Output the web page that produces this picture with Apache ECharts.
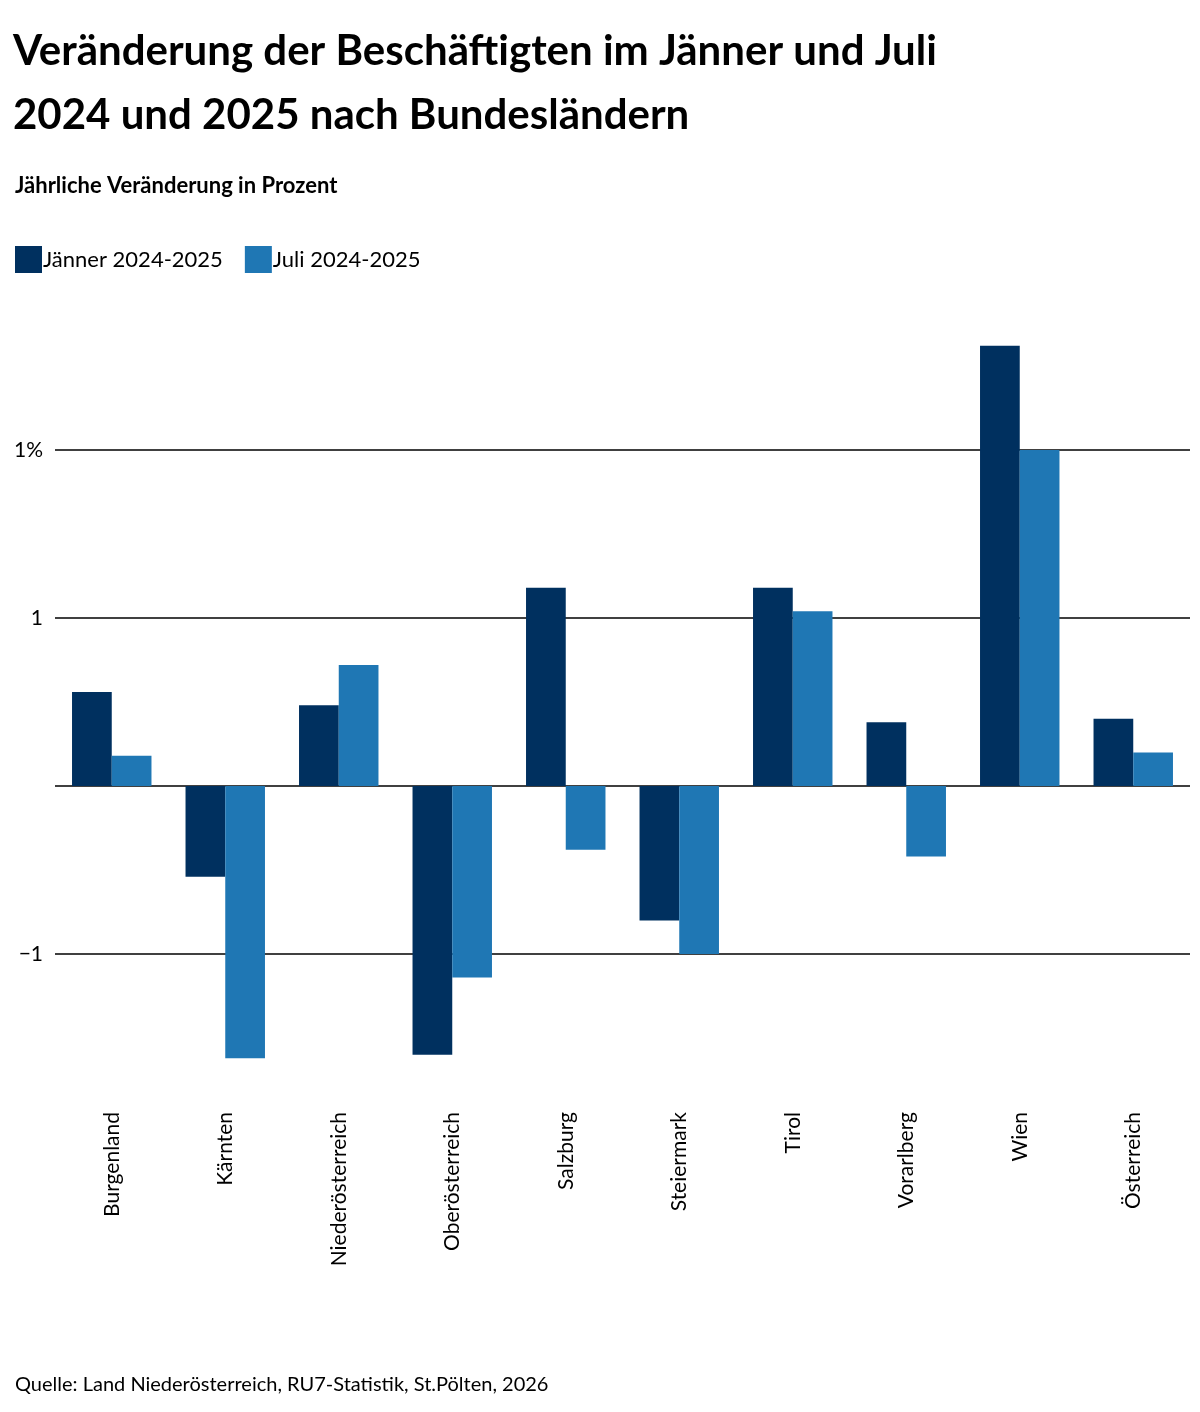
<!DOCTYPE html>
<html><head><meta charset="utf-8">
<script src="https://cdn.jsdelivr.net/npm/echarts@6/dist/echarts.min.js"></script>
<style>html,body{margin:0;background:#fff}#c{width:1200px;height:1412px}</style>
</head><body><div id="c"></div>
<script>
const categories = ['Burgenland','Kärnten','Niederösterreich','Oberösterreich','Salzburg','Steiermark','Tirol','Vorarlberg','Wien','Österreich'];
const jaenner = [0.28,-0.27,0.24,-0.80,0.59,-0.40,0.59,0.19,1.31,0.20];
const juli = [0.09,-0.81,0.36,-0.57,-0.19,-0.50,0.52,-0.21,1.00,0.10];
const tickLabels = { '1': '1%', '0.5': '1', '0': '', '-0.5': '−1' };

const chart = echarts.init(document.getElementById('c'));
const font = 'Lato, "Noto Sans", sans-serif';
chart.setOption({
  textStyle: { fontFamily: font },
  title: [
    { text: 'Veränderung der Beschäftigten im Jänner und Juli\n2024 und 2025 nach Bundesländern', left: 8, top: 14,
      textStyle: { fontSize: 42, fontWeight: 'bold', color: '#000', lineHeight: 64, fontFamily: font } },
    { text: 'Jährliche Veränderung in Prozent', left: 10, top: 170,
      textStyle: { fontSize: 22, fontWeight: 'bold', color: '#000', fontFamily: font } },
    { text: 'Quelle: Land Niederösterreich, RU7-Statistik, St.Pölten, 2026', left: 10, top: 1370,
      textStyle: { fontSize: 20, fontWeight: 'normal', color: '#000', fontFamily: font } }
  ],
  legend: { left: 10, top: 241, itemWidth: 27, itemHeight: 27, itemGap: 22, icon: 'rect',
    textStyle: { fontSize: 22, color: '#000', padding: [0, 0, 0, -4] } },
  grid: { left: 55, right: 10, top: 282, height: 840 },
  xAxis: { type: 'category', data: categories,
    axisLine: { show: false, onZero: false }, axisTick: { show: false },
    axisLabel: { rotate: 90, margin: -10, fontSize: 21, color: '#000', interval: 0 } },
  yAxis: { type: 'value', min: -1, max: 1.5, interval: 0.5,
    axisLine: { show: false }, axisTick: { show: false },
    splitLine: { showMinLine: false, showMaxLine: false, lineStyle: { color: '#000', width: 1.5 } },
    axisLabel: { showMinLabel: false, showMaxLabel: false, margin: 12, fontSize: 21, color: '#000',
      formatter: v => tickLabels[String(v)] ?? '' } },
  series: [
    { name: 'Jänner 2024-2025', type: 'bar', data: jaenner, barGap: '0%', barCategoryGap: '30%', itemStyle: { color: '#00305f' } },
    { name: 'Juli 2024-2025', type: 'bar', data: juli, itemStyle: { color: '#1f77b4' } }
  ]
});
</script></body></html>
